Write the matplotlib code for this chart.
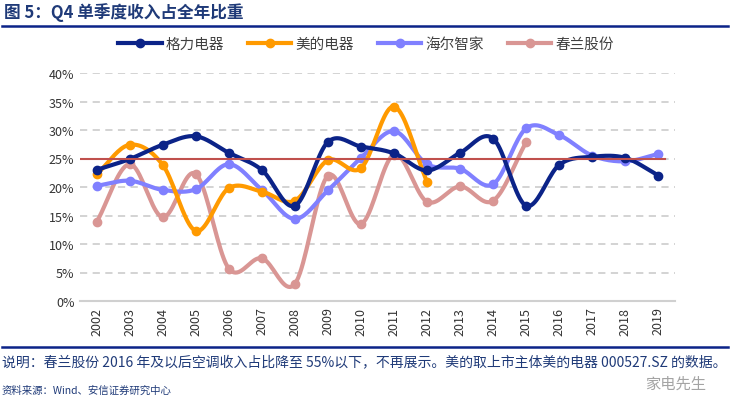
import numpy as np
import matplotlib
matplotlib.use("Agg")
import matplotlib.pyplot as plt
from matplotlib.lines import Line2D

plt.rcParams['font.family'] = ['Noto Sans CJK SC', 'DejaVu Sans']

years = ["2002", "2003", "2004", "2005", "2006", "2007", "2008", "2009", "2010",
         "2011", "2012", "2013", "2014", "2015", "2016", "2017", "2018", "2019"]
gree = [23.0, 24.9, 27.4, 28.9, 26.0, 23.0, 16.7, 27.9, 27.1, 25.9, 22.9, 26.0,
        28.5, 16.7, 23.9, 25.3, 25.1, 22.0]
midea = [22.2, 27.4, 23.9, 12.3, 19.8, 19.2, 17.6, 24.7, 23.3, 34.1, 20.9]
haier = [20.2, 21.1, 19.5, 19.6, 24.0, 19.5, 14.4, 19.4, 25.1, 29.8, 24.0, 23.2,
         20.5, 30.3, 29.1, 25.5, 24.5, 25.8]
chunlan = [13.8, 24.0, 14.7, 22.3, 5.7, 7.5, 3.0, 22.0, 13.5, 25.7, 17.4, 20.1,
           17.6, 27.9]
ref_level = 25.0
yticks = [0, 5, 10, 15, 20, 25, 30, 35, 40]

names = ["格力电器", "美的电器", "海尔智家", "春兰股份"]
colors = ["#0B2388", "#FF9A00", "#8080FF", "#D99694"]
series = [gree, midea, haier, chunlan]


def catmull(x, y, n=20):
    x = np.asarray(x, float)
    y = np.asarray(y, float)
    px = np.concatenate([[2 * x[0] - x[1]], x, [2 * x[-1] - x[-2]]])
    py = np.concatenate([[2 * y[0] - y[1]], y, [2 * y[-1] - y[-2]]])
    ox, oy = [], []
    for i in range(1, len(px) - 2):
        t = np.linspace(0, 1, n, endpoint=False)
        for arr, out in ((px, ox), (py, oy)):
            p0, p1, p2, p3 = arr[i - 1], arr[i], arr[i + 1], arr[i + 2]
            out.extend(0.5 * ((2 * p1) + (-p0 + p2) * t +
                              (2 * p0 - 5 * p1 + 4 * p2 - p3) * t ** 2 +
                              (-p0 + 3 * p1 - 3 * p2 + p3) * t ** 3))
    ox.append(x[-1]); oy.append(y[-1])
    return np.array(ox), np.array(oy)


fig = plt.figure(figsize=(7.34, 4.02), dpi=100)
ax = fig.add_axes([80 / 734, 1 - 302 / 402, 595 / 734, 228 / 402])

ax.set_xlim(-0.5, len(years) - 0.5)
ax.set_ylim(0, 40)
ax.set_yticks(yticks)
ax.set_yticklabels([f"{v}%" for v in yticks], fontsize=9, color="#333333")
ax.set_xticks(range(len(years)))
ax.set_xticklabels(years, rotation=90, fontsize=9, color="#333333")
ax.tick_params(length=0, pad=4)
for s in ["top", "right", "left"]:
    ax.spines[s].set_visible(False)
ax.spines["bottom"].set_color("#D0D0D0")
ax.spines["bottom"].set_linewidth(1.5)
for v in yticks[1:]:
    ax.axhline(v, color="#D0D0D0", lw=1.3, ls=(0, (4, 3)), zorder=0)

order = [3, 2, 1, 0]
for k in order:
    vals = series[k]
    xs = np.arange(len(vals))
    sx, sy = catmull(xs, vals)
    ax.plot(sx, sy, color=colors[k], lw=3, solid_capstyle="round", zorder=3 + (3 - k))
    ax.plot(xs, vals, "o", color=colors[k], ms=6, zorder=3 + (3 - k))

ax.plot([-0.5, len(years) - 0.5 - 0.3], [ref_level, ref_level], color="#C0504D", lw=1.5, zorder=10)

handles = [Line2D([0], [0], color=c, lw=3, marker="o", ms=6) for c in colors]
fig.legend(handles, names, loc="center", bbox_to_anchor=(366 / 734, 1 - 45 / 402),
           ncol=4, frameon=False, fontsize=10.5, handlelength=3.0, columnspacing=1.6,
           handletextpad=0.3, labelcolor="#404040")

fig.text(4 / 734, 1 - 13 / 402, "图 5：Q4 单季度收入占全年比重", fontsize=12,
         fontweight="bold", color="#1F3A78", va="center", ha="left")
fig.add_artist(Line2D([2 / 734, 728 / 734], [1 - 27 / 402, 1 - 27 / 402],
                      color="#0B2388", lw=1.8))
fig.add_artist(Line2D([2 / 734, 728 / 734], [1 - 348 / 402, 1 - 348 / 402],
                      color="#0B2388", lw=1.8))
fig.text(2 / 734, 1 - 362 / 402,
         "说明：春兰股份 2016 年及以后空调收入占比降至 55%以下，不再展示。美的取上市主体美的电器 000527.SZ 的数据。",
         fontsize=10, color="#1F3A78", va="center", ha="left")
fig.text(2 / 734, 1 - 391 / 402, "资料来源：Wind、安信证券研究中心", fontsize=7.5,
         color="#1F3A78", va="center", ha="left", style="italic")
fig.text(676 / 734, 1 - 384 / 402, "家电先生", fontsize=11, color="#9A9A9A",
         va="center", ha="center", alpha=0.9)

fig.savefig("out.png", dpi=100)
